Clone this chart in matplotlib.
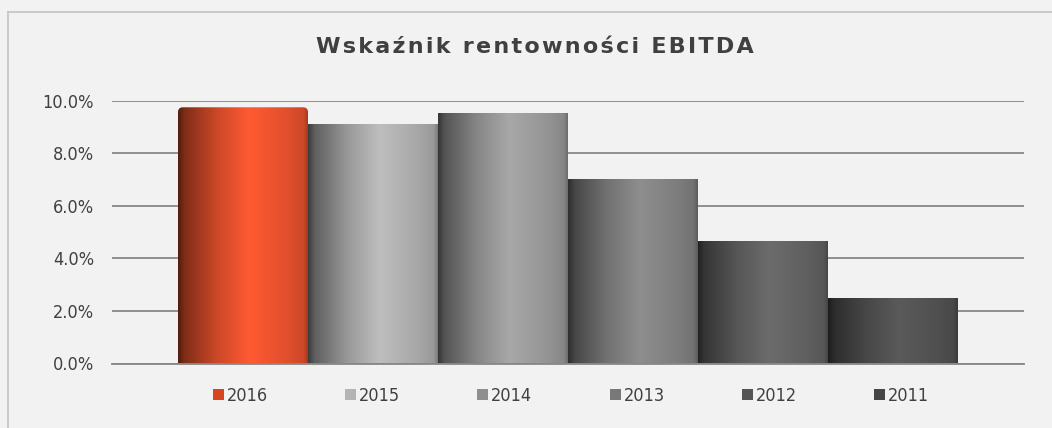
import numpy as np
import matplotlib
matplotlib.use("Agg")
import matplotlib.pyplot as plt
from matplotlib.patches import Patch, FancyBboxPatch
from matplotlib.colors import to_rgb

# dane
years = ["2016", "2015", "2014", "2013", "2012", "2011"]
ebitda = [0.0975, 0.0908, 0.0948, 0.0697, 0.0463, 0.0247]
peak_colors = ["#ff5a32", "#bebebe", "#a8a8a8", "#8e8e8e", "#6c6c6c", "#5a5a5a"]
legend_colors = ["#d9441f", "#b4b4b4", "#8e8e8e", "#787878", "#555555", "#454545"]
yticks = [0.0, 0.02, 0.04, 0.06, 0.08, 0.10]

txt = "#404040"
bg = "#f2f2f2"
lab_font = dict(family="DejaVu Sans", stretch="condensed", size=13)

fig = plt.figure(figsize=(10.52, 4.28), dpi=100, facecolor=bg)
ax = fig.add_axes([112 / 1052, 64.5 / 428, 912 / 1052, 262.8 / 428])
ax.set_facecolor(bg)

# ramka wykresu (lewa i górna krawędź)
fig.add_artist(plt.Line2D([8 / 1052, 8 / 1052], [0, 1 - 12 / 428], transform=fig.transFigure,
                          color="#c4c4c4", lw=1.2))
fig.add_artist(plt.Line2D([8 / 1052, 1], [1 - 12 / 428, 1 - 12 / 428], transform=fig.transFigure,
                          color="#c4c4c4", lw=1.2))

n = len(years)
w = 130 / 912
xs = (np.arange(n) - (n - 1) / 2) * w

bars = ax.bar(xs, ebitda, width=w, color="none", edgecolor="none", zorder=3)

# gradient poziomy - efekt cylindra
t = np.linspace(0, 1, 200)
prof = np.interp(t, [0, 0.05, 0.3, 0.55, 0.85, 0.97, 1.0],
                 [0.32, 0.5, 0.8, 1.0, 0.88, 0.8, 0.65])
for i, (b, c) in enumerate(zip(bars, peak_colors)):
    rgb = np.array(to_rgb(c))
    img = (prof[:, None] * rgb[None, :])[None, :, :]
    x0, y0 = b.get_x(), b.get_y()
    im = ax.imshow(img, extent=[x0, x0 + b.get_width(), y0, y0 + b.get_height()],
                   aspect="auto", zorder=3, interpolation="bilinear")
    if i == 0:
        # zaokrąglona góra pierwszego słupka
        r = 5 / 912
        clip = FancyBboxPatch((x0, -0.01), b.get_width(), b.get_height() + 0.01,
                              boxstyle=f"round,pad=0,rounding_size={r}",
                              mutation_aspect=912 / 2628, transform=ax.transData,
                              facecolor="none", edgecolor="none")
        ax.add_patch(clip)
        im.set_clip_path(clip)

ax.set_xlim(-456 / 130 * w, 456 / 130 * w)
ax.set_ylim(0, 0.10)
ax.set_yticks(yticks)
ax.set_yticklabels([f"{v * 100:.1f}%" for v in yticks], color=txt, fontdict=lab_font)
ax.set_xticks([])
ax.tick_params(axis="y", length=0, pad=13)
ax.yaxis.grid(True, color="#878787", lw=1.3, zorder=1)
ax.set_axisbelow(True)
for s in ["left", "right", "top"]:
    ax.spines[s].set_visible(False)
ax.spines["bottom"].set_color("#878787")
ax.spines["bottom"].set_linewidth(1.3)
ax.spines["bottom"].set_zorder(2)

# tytuł z rozstrzelonymi literami
title = "Wskaźnik rentowności EBITDA"
spaced = "\u200a".join(title)
fig.text(534.5 / 1052, 1 - 47 / 428, spaced, ha="center", va="center", fontsize=16,
         fontweight="bold", color=txt)

handles = [Patch(facecolor=c, edgecolor="none") for c in legend_colors]
leg = fig.legend(handles, years, loc="center", bbox_to_anchor=(571 / 1052, 1 - 396 / 428),
                 ncol=n, frameon=False, prop=lab_font, handlelength=0.61, handleheight=0.61,
                 handletextpad=0.17, columnspacing=4.27, labelcolor=txt)

fig.savefig("out.png", dpi=100, facecolor=bg)
